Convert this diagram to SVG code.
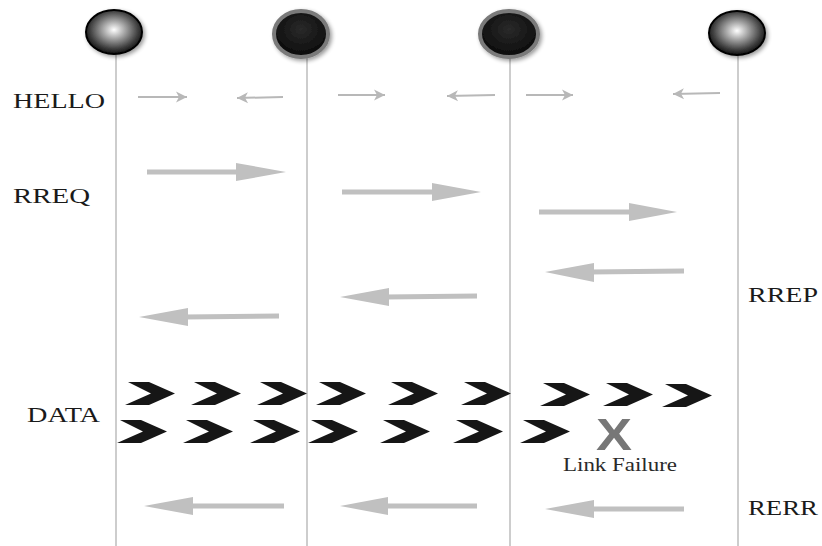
<svg xmlns="http://www.w3.org/2000/svg" width="822" height="546" viewBox="0 0 822 546">
<defs>
<radialGradient id="silver" cx="0.5" cy="0.45" r="0.55">
<stop offset="0" stop-color="#ffffff"/>
<stop offset="0.35" stop-color="#a8a8a8"/>
<stop offset="0.8" stop-color="#3a3a3a"/>
<stop offset="1" stop-color="#101010"/>
</radialGradient>
<radialGradient id="dark" cx="0.5" cy="0.4" r="0.6">
<stop offset="0" stop-color="#2a2a2a"/>
<stop offset="1" stop-color="#0a0a0a"/>
</radialGradient>
<filter id="shadow" x="-30%" y="-30%" width="160%" height="160%">
<feGaussianBlur in="SourceAlpha" stdDeviation="2"/>
<feOffset dx="2" dy="2"/>
<feComponentTransfer><feFuncA type="linear" slope="0.4"/></feComponentTransfer>
<feMerge><feMergeNode/><feMergeNode in="SourceGraphic"/></feMerge>
</filter>
<marker id="hs" markerWidth="13" markerHeight="13" refX="12" refY="6.5" orient="auto" markerUnits="userSpaceOnUse">
<path d="M1,1 L12,6.5 L1,12 L4,6.5 Z" fill="#b8b8b8"/>
</marker>
<path id="chev" d="M3,0 L24,0 L50,11.5 L24,23 L0,23 L26,11.5 Z"/>
</defs>
<style>
.life{stroke:#bdbdbd;stroke-width:1.5;fill:none}
.lbl{font-family:"Liberation Serif","Times New Roman",serif;font-size:22px;fill:#1a1a1a}
.hello{stroke:#b8b8b8;stroke-width:2;fill:none}
.big line{stroke:#c0c0c0;stroke-width:5}
.big path{fill:#c0c0c0}
.chev use{fill:#161616}
</style>

<g id="lifelines">
<line class="life" x1="116" y1="50" x2="116" y2="546"/>
<line class="life" x1="307" y1="55" x2="307" y2="546"/>
<line class="life" x1="510" y1="55" x2="510" y2="546"/>
<line class="life" x1="738" y1="50" x2="738" y2="546"/>
</g>

<g id="node1" filter="url(#shadow)"><ellipse cx="114" cy="32" rx="28" ry="22" fill="url(#silver)" stroke="#000" stroke-width="2"/></g>
<g id="node2" filter="url(#shadow)"><ellipse cx="301" cy="34" rx="27" ry="23" fill="url(#dark)" stroke="#7a7a7a" stroke-width="4"/></g>
<g id="node3" filter="url(#shadow)"><ellipse cx="509" cy="34" rx="29" ry="23" fill="url(#dark)" stroke="#7a7a7a" stroke-width="4"/></g>
<g id="node4" filter="url(#shadow)"><ellipse cx="737" cy="33" rx="28" ry="22" fill="url(#silver)" stroke="#000" stroke-width="2"/></g>

<g id="labels">
<text class="lbl" x="13" y="108" textLength="92" lengthAdjust="spacingAndGlyphs">HELLO</text>
<text class="lbl" x="13" y="203" textLength="77" lengthAdjust="spacingAndGlyphs">RREQ</text>
<text class="lbl" x="27" y="422" textLength="73" lengthAdjust="spacingAndGlyphs">DATA</text>
<text class="lbl" x="748" y="302" textLength="70" lengthAdjust="spacingAndGlyphs">RREP</text>
<text class="lbl" x="748" y="515" textLength="70" lengthAdjust="spacingAndGlyphs">RERR</text>
</g>

<g id="connectors">
<g id="hello">
<line class="hello" x1="138" y1="97" x2="187" y2="97" marker-end="url(#hs)"/>
<line class="hello" x1="283" y1="97" x2="237" y2="98" marker-end="url(#hs)"/>
<line class="hello" x1="338" y1="95" x2="385" y2="95" marker-end="url(#hs)"/>
<line class="hello" x1="495" y1="95" x2="447" y2="96" marker-end="url(#hs)"/>
<line class="hello" x1="526" y1="95" x2="573" y2="95" marker-end="url(#hs)"/>
<line class="hello" x1="720" y1="93" x2="673" y2="94" marker-end="url(#hs)"/>
</g>
<g id="rreq" class="big">
<line x1="147" y1="172" x2="240" y2="172"/><path d="M236,163 L286,172 L236,181 Z"/>
<line x1="342" y1="192" x2="436" y2="192"/><path d="M432,183 L481,192 L432,201 Z"/>
<line x1="539" y1="212" x2="633" y2="212"/><path d="M629,203 L677,212 L629,221 Z"/>
</g>
<g id="rrep" class="big">
<line x1="684" y1="271" x2="590" y2="272"/><path d="M594,263 L545,272 L594,282 Z"/>
<line x1="477" y1="296" x2="385" y2="297"/><path d="M389,288 L340,297 L389,306 Z"/>
<line x1="279" y1="316" x2="184" y2="317"/><path d="M188,308 L139,317 L188,326 Z"/>
</g>
<g id="rerr" class="big">
<line x1="284" y1="506" x2="189" y2="506"/><path d="M193,497 L144,506 L193,515 Z"/>
<line x1="477" y1="506" x2="384" y2="506"/><path d="M388,497 L340,506 L388,515 Z"/>
<line x1="684" y1="509" x2="590" y2="509"/><path d="M594,500 L545,509 L594,518 Z"/>
</g>
<g id="data" class="chev">
<use href="#chev" x="125" y="382"/>
<use href="#chev" x="191" y="382"/>
<use href="#chev" x="257" y="382"/>
<use href="#chev" x="316" y="382"/>
<use href="#chev" x="388" y="382"/>
<use href="#chev" x="461" y="382"/>
<use href="#chev" x="540" y="383"/>
<use href="#chev" x="603" y="383"/>
<use href="#chev" x="662" y="384"/>
<use href="#chev" x="117" y="420"/>
<use href="#chev" x="183" y="420"/>
<use href="#chev" x="250" y="420"/>
<use href="#chev" x="308" y="420"/>
<use href="#chev" x="380" y="420"/>
<use href="#chev" x="453" y="420"/>
<use href="#chev" x="520" y="420"/>
</g>
</g>

<g id="failure">
<text x="614" y="450" text-anchor="middle" font-family="Liberation Sans,Arial,sans-serif" font-weight="bold" font-size="44" fill="#777" textLength="36" lengthAdjust="spacingAndGlyphs">X</text>
<text x="563" y="471" font-family="Liberation Serif,'Times New Roman',serif" font-size="18" fill="#2a2a2a" textLength="114" lengthAdjust="spacingAndGlyphs">Link Failure</text>
</g>
</svg>
